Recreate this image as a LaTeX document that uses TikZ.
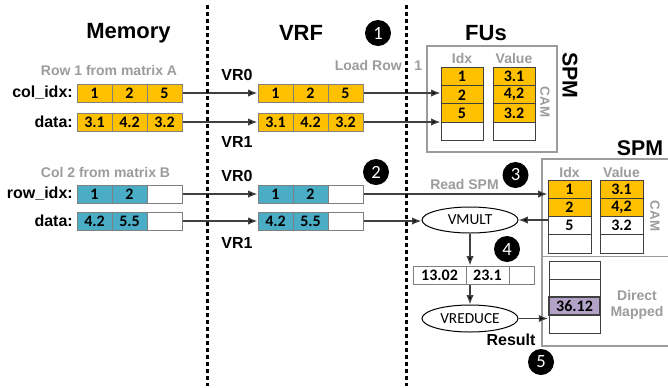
\documentclass[tikz,border=0pt]{standalone}
\usepackage{fontspec}
\setmainfont{Liberation Sans}
\newfontfamily\calfont{Carlito}
\usetikzlibrary{arrows.meta,shapes.geometric}
\definecolor{yel}{HTML}{FFC000}
\definecolor{blu}{HTML}{4BACC6}
\definecolor{pur}{HTML}{B3A2C7}
\definecolor{gtxt}{HTML}{9C9C9C}
\definecolor{cline}{HTML}{404040}
\definecolor{cellb}{HTML}{808080}
\begin{document}
\begin{tikzpicture}[x=0.75pt,y=-0.75pt,
 cellfont/.style={font=\calfont\bfseries\fontsize{12}{13}\selectfont},
 mcell/.style={draw=cellb,line width=0.75pt,minimum width=26.25pt,minimum height=13.5pt,inner sep=0pt,cellfont},
 fcell/.style={draw=cline,line width=0.75pt,minimum width=31.5pt,minimum height=13.725pt,inner sep=0pt,cellfont},
 gcell/.style={draw=cline,line width=0.75pt,minimum width=32.25pt,minimum height=13.725pt,inner sep=0pt,cellfont},
 dcell/.style={draw=cline,line width=0.75pt,minimum width=38.25pt,minimum height=13.5pt,inner sep=0pt,cellfont},
 rcell/.style={draw=cellb,line width=0.75pt,minimum height=13.5pt,inner sep=0pt,cellfont},
 lbl/.style={font=\bfseries\fontsize{12}{14}\selectfont,anchor=east,inner sep=0pt},
 glabel/.style={text=gtxt,font=\bfseries\fontsize{10.5}{12}\selectfont,inner sep=0pt},
 title/.style={font=\bfseries\fontsize{16.5}{20}\selectfont,inner sep=0pt},
 num/.style={circle,fill=black,text=white,minimum size=19.5pt,inner sep=0pt,font=\calfont\fontsize{14}{16}\selectfont},
 conn/.style={draw=cline,line width=1pt,-{Latex[length=7pt,width=5.5pt,fill=black]}},
 sepline/.style={line width=2.25pt,dash pattern=on 3pt off 2.25pt},
 op/.style={ellipse,draw,line width=0.75pt,minimum width=72pt,minimum height=19.5pt,inner sep=0pt,font=\calfont\fontsize{11.5}{13}\selectfont}
]
\useasboundingbox (0,0) rectangle (668,387);
\fill[white] (0,0) rectangle (668,387);

% titles
\node[title] (tmem) at (128.5,33) {Memory};
\node[title] (tvrf) at (301,33) {VRF};
\node[title] (tfu) at (486,33) {FUs};
\node[num] (n1) at (378,33) {1};
\node[num] (n2) at (376,172) {2};
\node[num] (n3) at (515.5,175) {3};
\node[num] (n4) at (507,249) {4};
\node[num] (n5) at (541,362) {5};

% memory labels
\node[glabel] (rowa) at (109,70) {Row 1 from matrix A};
\node[glabel] (colb) at (105.5,172) {Col 2 from matrix B};
\node[lbl] (lci) at (73,93) {col\_idx:};
\node[lbl] (ld1) at (73,122) {data:};
\node[lbl] (lri) at (73,194) {row\_idx:};
\node[lbl] (ld2) at (73,221) {data:};

% memory cells
\node[mcell,fill=yel] (ma1) at (94.5,93) {1};
\node[mcell,fill=yel] (ma2) at (129.5,93) {2};
\node[mcell,fill=yel] (ma3) at (164.5,93) {5};
\node[mcell,fill=yel] (md1) at (94.5,122) {3.1};
\node[mcell,fill=yel] (md2) at (129.5,122) {4.2};
\node[mcell,fill=yel] (md3) at (164.5,122) {3.2};
\node[mcell,fill=blu] (mb1) at (94.5,194) {1};
\node[mcell,fill=blu] (mb2) at (129.5,194) {2};
\node[mcell,fill=white] (mb3) at (164.5,194) {};
\node[mcell,fill=blu] (me1) at (94.5,221) {4.2};
\node[mcell,fill=blu] (me2) at (129.5,221) {5.5};
\node[mcell,fill=white] (me3) at (164.5,221) {};

% VRF labels
\node[lbl,anchor=center] (vr0a) at (237,75) {VR0};
\node[lbl,anchor=center] (vr1a) at (237,142) {VR1};
\node[lbl,anchor=center] (vr0b) at (237,176) {VR0};
\node[lbl,anchor=center] (vr1b) at (237,243) {VR1};

% VRF cells
\node[mcell,fill=yel] (va1) at (275.5,93) {1};
\node[mcell,fill=yel] (va2) at (310.5,93) {2};
\node[mcell,fill=yel] (va3) at (345.5,93) {5};
\node[mcell,fill=yel] (vd1) at (275.5,122) {3.1};
\node[mcell,fill=yel] (vd2) at (310.5,122) {4.2};
\node[mcell,fill=yel] (vd3) at (345.5,122) {3.2};
\node[mcell,fill=blu] (vb1) at (275.5,194) {1};
\node[mcell,fill=blu] (vb2) at (310.5,194) {2};
\node[mcell,fill=white] (vb3) at (345.5,194) {};
\node[mcell,fill=blu] (ve1) at (275.5,221) {4.2};
\node[mcell,fill=blu] (ve2) at (310.5,221) {5.5};
\node[mcell,fill=white] (ve3) at (345.5,221) {};

\node[glabel] (load) at (378.5,65) {Load Row\hspace{9.5pt}1};
\node[glabel] (read) at (464.5,184) {Read SPM};

% upper SPM
\draw[gtxt,line width=1pt] (427,46) rectangle (557,152);
\node[glabel] (hidx1) at (462,58) {Idx};
\node[glabel] (hval1) at (514,58) {Value};
\node[fcell,fill=yel] (i1) at (462,76.5) {1};
\node[fcell,fill=yel] (i2) at (462,94.8) {2};
\node[fcell,fill=yel] (i3) at (462,113.1) {5};
\node[fcell,fill=white] (i4) at (462,131.4) {};
\node[fcell,fill=yel] (w1) at (514,76.5) {3.1};
\node[fcell,fill=yel] (w2) at (514,94.8) {4,2};
\node[fcell,fill=yel] (w3) at (514,113.1) {3.2};
\node[fcell,fill=white] (w4) at (514,131.4) {};
\node[text=gtxt,font=\bfseries\fontsize{10}{12}\selectfont,rotate=-90,inner sep=0pt] (cam1) at (545,102) {CAM};
\node[font=\bfseries\fontsize{16}{19}\selectfont,rotate=-90,inner sep=0pt] (spm1) at (570,75.5) {SPM};

% lower SPM
\draw[gtxt,line width=1pt] (670,159) -- (542,159) -- (542,346) -- (670,346);
\draw[gtxt,line width=1pt] (542,256.5) -- (670,256.5);
\node[font=\bfseries\fontsize{16}{19}\selectfont,inner sep=0pt] (spm2) at (640,148) {SPM};
\node[glabel] (hidx2) at (569.5,172) {Idx};
\node[glabel] (hval2) at (621.5,172) {Value};
\node[gcell,fill=yel] (j1) at (569.5,189.2) {1};
\node[gcell,fill=yel] (j2) at (569.5,207.5) {2};
\node[gcell,fill=white] (j3) at (569.5,225.8) {5};
\node[gcell,fill=white] (j4) at (569.5,244.1) {};
\node[gcell,fill=yel] (k1) at (621.5,189.2) {3.1};
\node[gcell,fill=yel] (k2) at (621.5,207.5) {4,2};
\node[gcell,fill=white] (k3) at (621.5,225.8) {3.2};
\node[gcell,fill=white] (k4) at (621.5,244.1) {};
\node[text=gtxt,font=\bfseries\fontsize{10}{12}\selectfont,rotate=-90,inner sep=0pt] (cam2) at (655,216) {CAM};

\node[dcell,fill=white] (d1) at (574.5,270) {};
\node[dcell,fill=white] (d2) at (574.5,288) {};
\node[dcell,fill=white] (d4) at (574.5,324) {};
\node[dcell,fill=pur,line width=1.2pt] (d3) at (574.5,306) {36.12};
\node[glabel,align=center,font=\bfseries\fontsize{10.5}{12}\selectfont] (dm) at (637,305) {Direct\\Mapped};

% operations
\node[op] (vmult) at (470,220) {VMULT};
\node[rcell,minimum width=39.75pt] (r1) at (439.5,275) {13.02};
\node[rcell,minimum width=32.25pt] (r2) at (487.5,275) {23.1};
\node[rcell,minimum width=18.75pt] (r3) at (521.5,275) {};
\node[op,minimum height=20.25pt] (vreduce) at (470,318.5) {VREDUCE};
\node[font=\bfseries\fontsize{12}{14}\selectfont,inner sep=0pt] (res) at (511,340) {Result};

% connectors
\draw[conn] (ma3.east) -- (va1.west);
\draw[conn] (md3.east) -- (vd1.west);
\draw[conn] (mb3.east) -- (vb1.west);
\draw[conn] (me3.east) -- (ve1.west);
\draw[conn] (va3.east) -- (va3.east -| i1.west);
\draw[conn] (vd3.east) -- (vd3.east -| i1.west);
\draw[conn] (vb3.east) -- (vb3.east -| j1.west);
\draw[conn] (ve3.east) -- (ve3.east -| vmult.west);
\draw[conn] (vmult.east -| j3.west) -- (vmult.east);
\draw[conn] (vmult.south) -- (vmult.south |- r1.north);
\draw[conn] (vmult.south |- r1.south) -- (vreduce.north);
\draw[conn] (vreduce.east) -- (vreduce.east -| d3.west);

% separators
\draw[sepline] (207,5) -- (207,386);
\draw[sepline] (406.5,5) -- (406.5,386);
\end{tikzpicture}
\end{document}
